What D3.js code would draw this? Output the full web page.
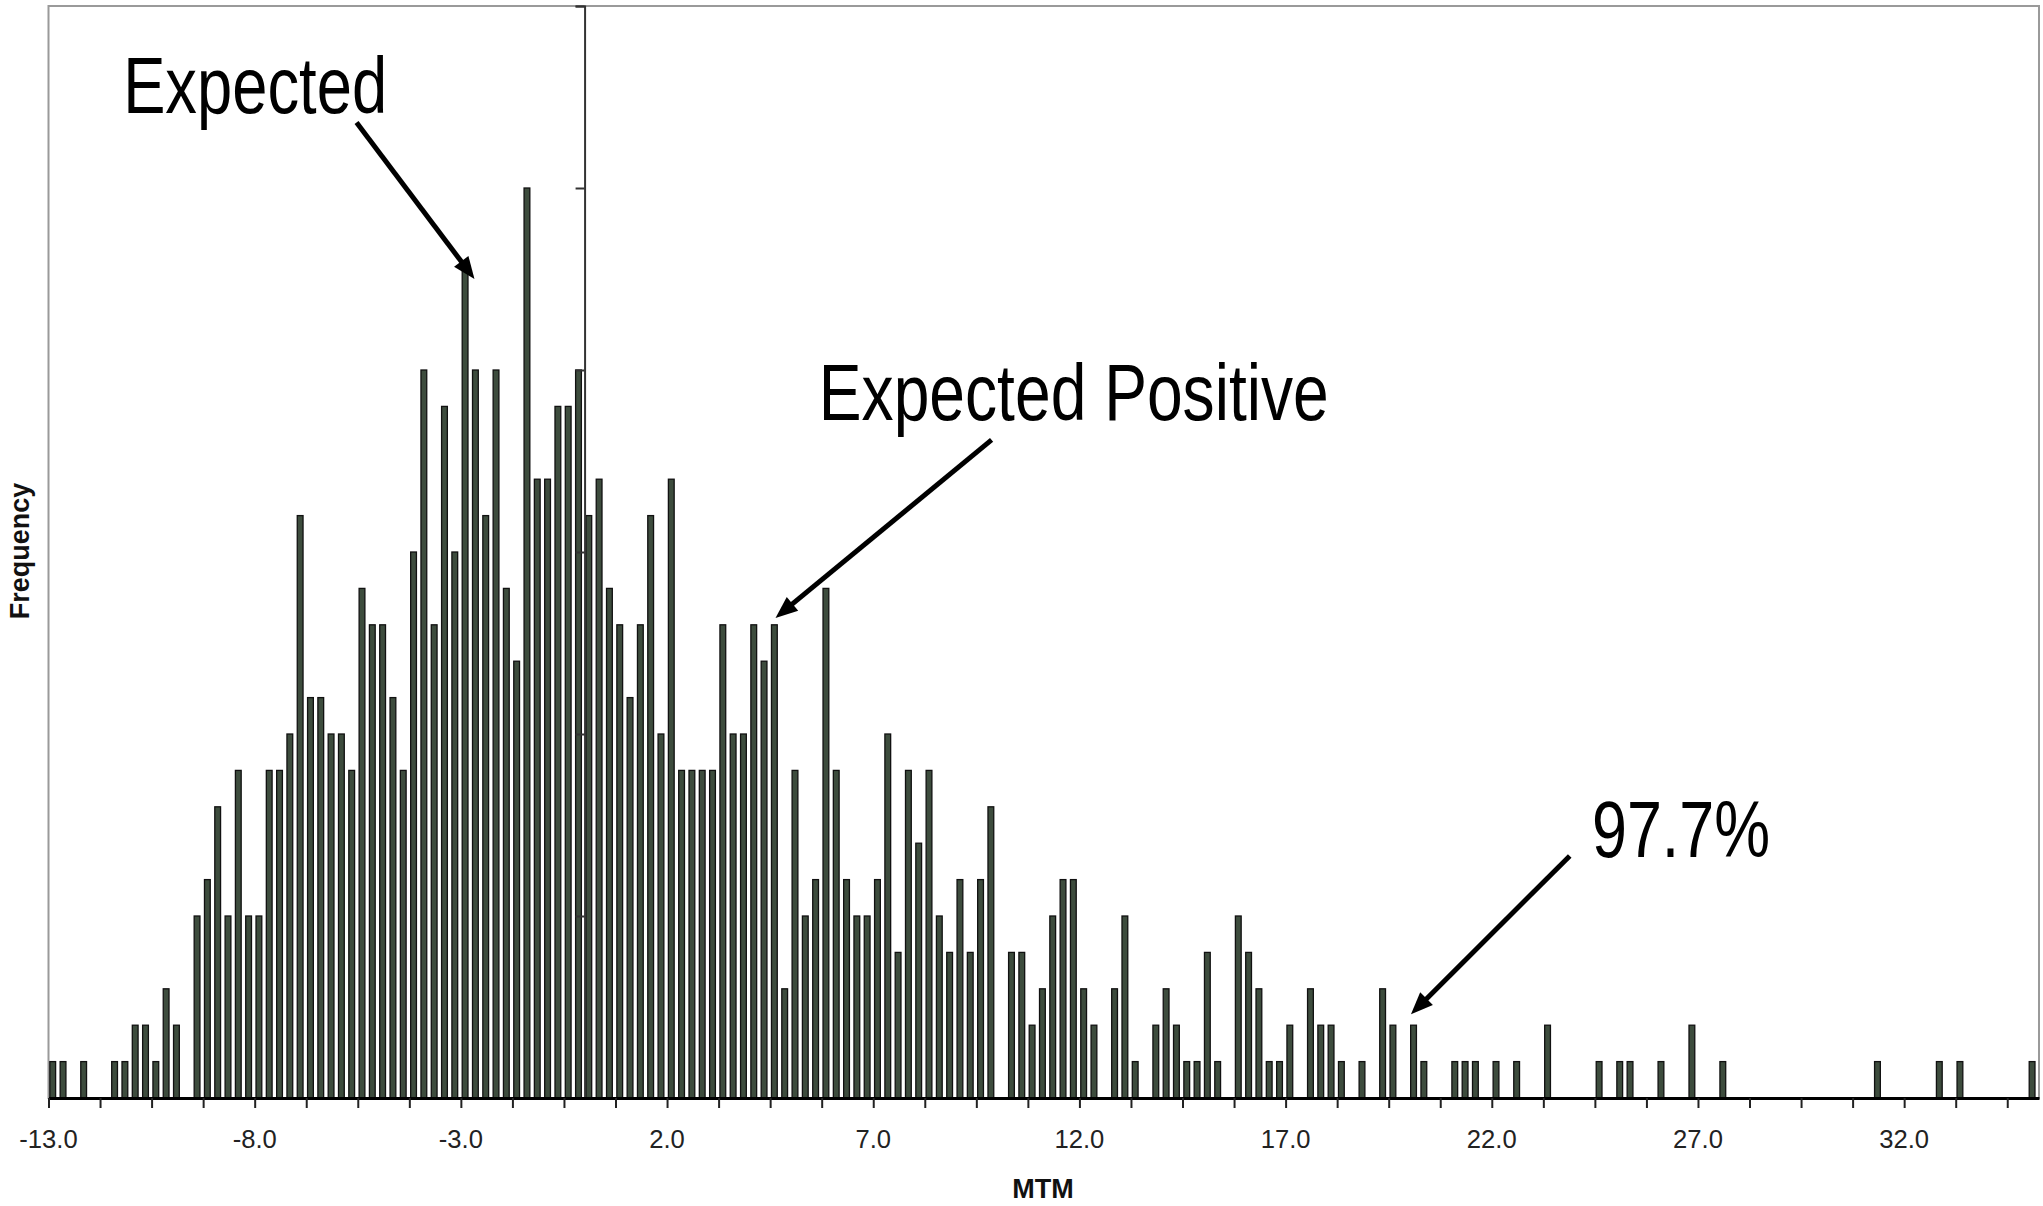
<!DOCTYPE html>
<html>
<head>
<meta charset="utf-8">
<script src="https://cdn.jsdelivr.net/npm/d3@7"></script>
<style>
  body { margin: 0; background: #fff; }
  svg { display: block; }
</style>
</head>
<body>
<div id="chart"></div>
<script>

// histogram bins: 0.25 wide starting at -13.0
var binStart = -13;
var binWidth = 0.25;
var counts = [
  1,1,0,1,0,0,1,1,2,2,
  1,3,2,0,5,6,8,5,9,5,
  5,9,9,10,16,11,11,10,10,9,
  14,13,13,11,9,15,20,13,19,15,
  23,20,16,20,14,12,25,17,17,19,
  19,20,16,17,14,13,11,13,16,10,
  17,9,9,9,9,13,10,10,13,12,
  13,3,9,5,6,14,9,6,5,5,
  6,10,4,9,7,9,5,4,6,4,
  6,8,0,4,4,2,3,5,6,6,
  3,2,0,3,5,1,0,2,3,2,
  1,1,4,1,0,5,4,3,1,1,
  2,0,3,2,2,1,0,1,0,3,
  2,0,2,1,0,0,1,1,1,0,
  1,0,1,0,0,2,0,0,0,0,
  1,0,1,1,0,0,1,0,0,2,
  0,0,1,0,0,0,0,0,0,0,
  0,0,0,0,0,0,0,1,0,0,
  0,0,0,1,0,1,0,0,0,0,
  0,0,1
];

var labelValues = [-13, -8, -3, 2, 7, 12, 17, 22, 27, 32];
var tickLabels = ["-13.0", "-8.0", "-3.0", "2.0", "7.0", "12.0", "17.0", "22.0", "27.0", "32.0"];
var yTicks = [0, 5, 10, 15, 20, 25, 30];

// callouts, in data units (MTM, frequency)
var callouts = [
  { text: "Expected",          x: -11.19, y: 27.06, from: [-5.53, 26.8],  to: [-2.67, 22.5] },
  { text: "Expected Positive", x: 5.68,   y: 18.63, from: [9.87, 18.08],  to: [4.63, 13.19] },
  { text: "97.7%",             x: 24.43,  y: 6.62,  from: [23.89, 6.65],  to: [20.04, 2.3] }
];
var calloutWidths = [264, 510, 178];

var width = 2043, height = 1206;

var svg = d3.select("#chart").append("svg")
    .attr("width", width)
    .attr("height", height);

var x = d3.scaleLinear()
    .domain([-13, 35.27])
    .range([48.5, 2039]);

var y = d3.scaleLinear()
    .domain([0, 30])
    .range([1098, 6]);

// plot frame
svg.append("rect")
    .attr("x", x.range()[0])
    .attr("y", y(30))
    .attr("width", x.range()[1] - x.range()[0])
    .attr("height", y(0) - y(30))
    .attr("fill", "none")
    .attr("stroke", "#9a9a9a")
    .attr("stroke-width", 2);

// bars
var bw = x(binWidth) - x(0);
svg.append("g")
  .selectAll("rect")
    .data(counts.map(function(c, i) { return { x0: binStart + i * binWidth, n: c }; })
                .filter(function(d) { return d.n > 0; }))
  .enter().append("rect")
    .attr("x", function(d) { return x(d.x0) + bw * 0.13; })
    .attr("y", function(d) { return y(d.n); })
    .attr("width", bw * 0.56)
    .attr("height", function(d) { return y(0) - y(d.n); })
    .attr("fill", "#3d4c3d")
    .attr("stroke", "#111")
    .attr("stroke-width", 1.3);

// y axis sits at MTM = 0, no labels
var yAxis = svg.append("g")
    .attr("transform", "translate(" + x(0) + ",0)")
    .call(d3.axisLeft(y).tickValues(yTicks).tickSize(9).tickFormat(""));
yAxis.select(".domain").attr("stroke", "#333").attr("stroke-width", 2);
yAxis.selectAll(".tick line").attr("stroke", "#333").attr("stroke-width", 2);

// x axis: minor ticks every 1.25, labels every 5
var minorTicks = d3.range(-13, 35.27, 1.25);
var xAxis = svg.append("g")
    .attr("transform", "translate(0," + y(0) + ")")
    .call(d3.axisBottom(x).tickValues(minorTicks).tickSize(10).tickSizeOuter(0).tickFormat(""));
xAxis.select(".domain").attr("stroke", "#000").attr("stroke-width", 3);
xAxis.selectAll(".tick line").attr("stroke", "#222").attr("stroke-width", 2);

svg.append("g")
  .selectAll("text")
    .data(labelValues)
  .enter().append("text")
    .attr("x", function(d) { return x(d); })
    .attr("y", 1148)
    .attr("text-anchor", "middle")
    .attr("font-family", "'Liberation Sans', Arial, sans-serif")
    .attr("font-size", 25.6)
    .attr("fill", "#222")
    .text(function(d, i) { return tickLabels[i]; });

// axis titles
svg.append("text")
    .attr("x", 1043)
    .attr("y", 1198)
    .attr("text-anchor", "middle")
    .attr("font-family", "'Liberation Sans', Arial, sans-serif")
    .attr("font-weight", "bold")
    .attr("font-size", 27)
    .attr("fill", "#111")
    .text("MTM");

svg.append("text")
    .attr("transform", "translate(29,551) rotate(-90)")
    .attr("text-anchor", "middle")
    .attr("font-family", "'Liberation Sans', Arial, sans-serif")
    .attr("font-weight", "bold")
    .attr("font-size", 27)
    .attr("fill", "#111")
    .text("Frequency");

// callout texts + arrows
function arrow(x1, y1, x2, y2) {
  var dx = x2 - x1, dy = y2 - y1, L = Math.sqrt(dx * dx + dy * dy);
  var ux = dx / L, uy = dy / L, head = 22, half = 9;
  var bx = x2 - ux * head, by = y2 - uy * head;
  svg.append("line")
      .attr("x1", x1).attr("y1", y1)
      .attr("x2", bx + ux * 2).attr("y2", by + uy * 2)
      .attr("stroke", "#000")
      .attr("stroke-width", 5);
  svg.append("path")
      .attr("d", "M" + x2 + "," + y2 +
                 "L" + (bx - uy * half) + "," + (by + ux * half) +
                 "L" + (bx + uy * half) + "," + (by - ux * half) + "Z")
      .attr("fill", "#000");
}

callouts.forEach(function(c, i) {
  svg.append("text")
      .attr("x", x(c.x))
      .attr("y", y(c.y))
      .attr("font-family", "'Liberation Sans Narrow', 'Liberation Sans', Arial, sans-serif")
      .attr("font-size", 80)
      .attr("fill", "#000")
      .attr("textLength", calloutWidths[i])
      .attr("lengthAdjust", "spacingAndGlyphs")
      .text(c.text);
  arrow(x(c.from[0]), y(c.from[1]), x(c.to[0]), y(c.to[1]));
});

</script>
</body>
</html>
